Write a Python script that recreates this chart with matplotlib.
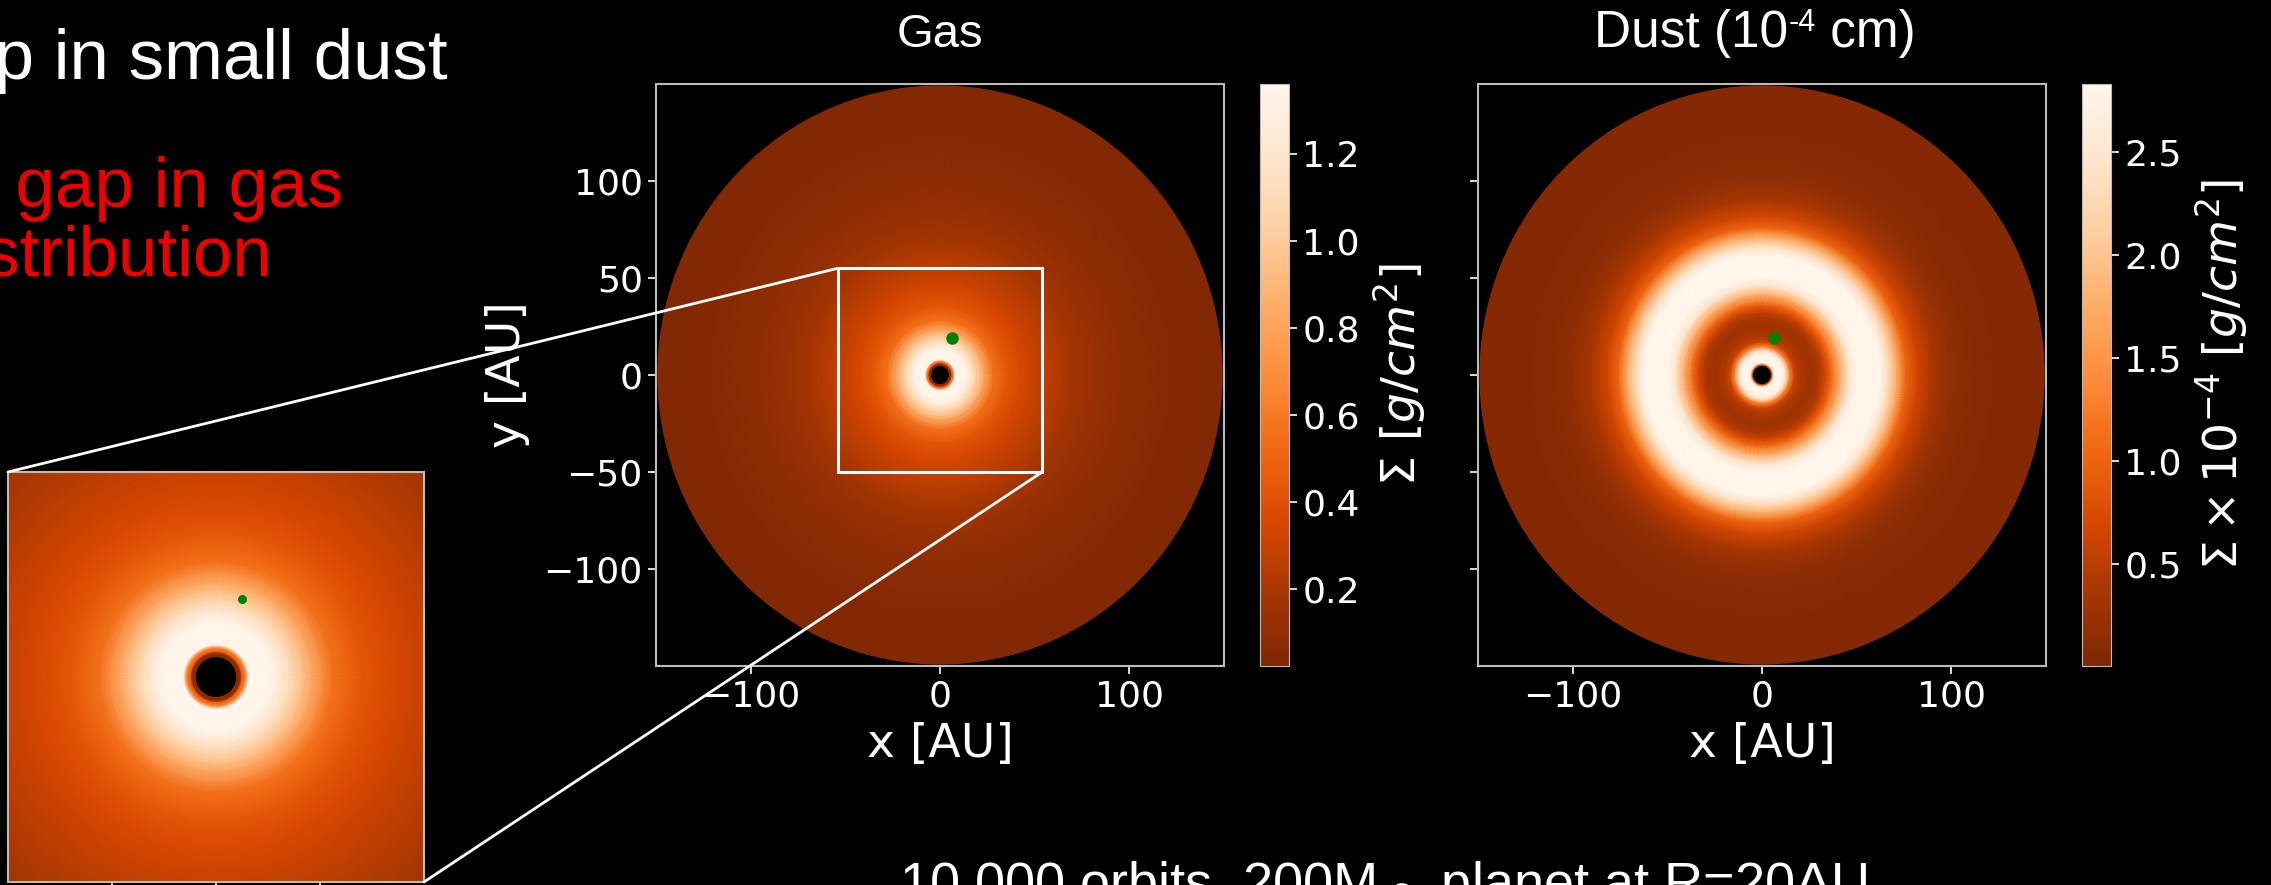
import numpy as np
import matplotlib
matplotlib.use('Agg')
import matplotlib.pyplot as plt
from matplotlib.patches import Rectangle, ConnectionPatch

# radial surface density profiles (r in AU)
gas_r = [5.0, 5.8, 6.2, 7.0, 7.8, 13.0, 16.0, 19.0, 23.0, 28.0, 35.0, 42.0,
         50.0, 60.0, 70.0, 85.0, 100.0, 125.0, 149.0]
gas_sigma = [0.06, 0.10, 0.50, 0.62, 1.36, 1.36, 1.20, 1.03, 0.82, 0.56, 0.43, 0.36,
             0.30, 0.24, 0.18, 0.12, 0.08, 0.05, 0.04]

dust_r = [5.0, 5.6, 6.3, 10.5, 12.5, 14.5, 17.0, 20.0, 25.0, 30.0, 34.0, 38.0,
          42.0, 46.0, 50.0, 62.0, 66.0, 71.0, 76.0, 82.0, 90.0, 100.0, 112.0,
          130.0, 149.0]
dust_sigma = [0.3, 1.8, 2.83, 2.83, 2.4, 1.35, 0.62, 0.42, 0.30, 0.40, 0.75, 1.3,
              1.9, 2.5, 2.83, 2.83, 2.4, 1.75, 1.0, 0.65, 0.38, 0.18, 0.09,
              0.07, 0.06]  # x 1e-4 g/cm^2

planet_x, planet_y = 6.2, 19.0
gas_range = (0.022, 1.36)
dust_range = (0.005, 2.83)
gas_cb_ticks = [0.2, 0.4, 0.6, 0.8, 1.0, 1.2]
dust_cb_ticks = [0.5, 1.0, 1.5, 2.0, 2.5]
x_ticks = [-100, 0, 100]
y_ticks = [-100, -50, 0, 50, 100]
zoom_box = (-54, 54, -50, 55)   # x0, x1, y0, y1 of the white box
inset_ticks = [-25, 0, 25]

W, H = 2271, 885
fig = plt.figure(figsize=(W / 100, H / 100), dpi=100, facecolor='black')


def px_axes(l, t, r, b):
    return fig.add_axes([l / W, 1 - b / H, (r - l) / W, (b - t) / H])


def draw_disk(ax, r, sigma, vr):
    theta = np.linspace(0, 2 * np.pi, 361)
    R, T = np.meshgrid(np.array(r), theta)
    C = np.tile(np.array(sigma), (len(theta), 1))
    return ax.pcolormesh(R * np.cos(T), R * np.sin(T), C, shading='gouraud',
                         cmap='Oranges_r', vmin=vr[0], vmax=vr[1])


def style(ax):
    ax.set_facecolor('black')
    for s in ax.spines.values():
        s.set_color('#bbbbbb')
        s.set_linewidth(1.5)
    ax.tick_params(colors='white', labelsize=26, length=6, width=1.2)


# gas panel
ax_gas = px_axes(656, 84, 1224, 666)
style(ax_gas)
m_gas = draw_disk(ax_gas, gas_r, gas_sigma, gas_range)
ax_gas.plot(planet_x, planet_y, 'o', color='green', ms=9, mec='none')
ax_gas.set_xlim(-150, 150)
ax_gas.set_ylim(-150, 150)
ax_gas.set_xticks(x_ticks)
ax_gas.set_yticks(y_ticks)
ax_gas.set_xlabel('x [AU]', color='white', fontsize=34, labelpad=6)
ax_gas.set_ylabel('y [AU]', color='white', fontsize=34, labelpad=10)
x0, x1, y0, y1 = zoom_box
ax_gas.add_patch(Rectangle((x0, y0), x1 - x0, y1 - y0, fill=False,
                           ec='white', lw=2.2, zorder=5))

cax_gas = px_axes(1260, 84, 1289, 666)
cb = fig.colorbar(m_gas, cax=cax_gas, ticks=gas_cb_ticks)
cb.outline.set_edgecolor('#bbbbbb')
cb.ax.tick_params(colors='white', labelsize=26, length=6, width=1.2)
cb.set_label(r'$\Sigma\ [g/cm^2]$', color='white', fontsize=34, labelpad=8)

# dust panel
ax_dust = px_axes(1478, 84, 2046, 666)
style(ax_dust)
m_dust = draw_disk(ax_dust, dust_r, dust_sigma, dust_range)
ax_dust.plot(planet_x, planet_y, 'o', color='green', ms=9, mec='none')
ax_dust.set_xlim(-150, 150)
ax_dust.set_ylim(-150, 150)
ax_dust.set_xticks(x_ticks)
ax_dust.set_yticks(y_ticks)
ax_dust.tick_params(labelleft=False)
ax_dust.set_xlabel('x [AU]', color='white', fontsize=34, labelpad=6)

cax_dust = px_axes(2082, 84, 2111, 666)
cb2 = fig.colorbar(m_dust, cax=cax_dust, ticks=dust_cb_ticks)
cb2.outline.set_edgecolor('#bbbbbb')
cb2.ax.tick_params(colors='white', labelsize=26, length=6, width=1.2)
cb2.set_label(r'$\Sigma \times 10^{-4}\ [g/cm^2]$', color='white', fontsize=34,
              labelpad=8)

# zoomed inset of the gas
ax_in = px_axes(8, 472, 424, 882)
style(ax_in)
draw_disk(ax_in, gas_r, gas_sigma, gas_range)
ax_in.plot(planet_x, planet_y, 'o', color='green', ms=6.5, mec='none')
ax_in.set_xlim(-50, 50)
ax_in.set_ylim(-50, 50)
ax_in.set_xticks(inset_ticks)
ax_in.set_yticks([])
ax_in.tick_params(labelbottom=False)

for pa, pb in [((-50, 50), (x0, y1)), ((50, -50), (x1, y0))]:
    con = ConnectionPatch(xyA=pa, coordsA=ax_in.transData,
                          xyB=pb, coordsB=ax_gas.transData,
                          color='white', lw=2)
    con.set_zorder(10)
    fig.add_artist(con)

# slide text
font = 'Liberation Sans'
fig.text(448 / W, 1 - 79 / H, 'Gap in small dust', ha='right', va='baseline',
         fontsize=51, color='white', family=font)
fig.text(343 / W, 1 - 207 / H, 'No gap in gas', ha='right', va='baseline',
         fontsize=51, color='#ee0000', family=font)
fig.text(272 / W, 1 - 275 / H, 'distribution', ha='right', va='baseline',
         fontsize=51, color='#ee0000', family=font)
fig.text(940 / W, 1 - 47 / H, 'Gas', ha='center', va='baseline',
         fontsize=34, color='white', family=font)
fig.text(899 / W, 1 - 900 / H, r'10,000 orbits, 200M$_\oplus$ planet at R=20AU',
         ha='left', va='baseline', fontsize=39, color='white', family=font)

# "Dust (10-4 cm)" with a raised hyphen, laid out piece by piece
parts = [('Dust (10', 37, 0), ('-4', 22, 16), (' cm)', 37, 0)]
pieces = [fig.text(0, 0, s, fontsize=fs, color='white', family=font,
                   va='baseline') for s, fs, _ in parts]
fig.canvas.draw()
rend = fig.canvas.get_renderer()
widths = [p.get_window_extent(rend).width for p in pieces]
x = 1755 - sum(widths) / 2
for p, w, (_, _, rise) in zip(pieces, widths, parts):
    p.set_position((x / W, 1 - (47 - rise) / H))
    x += w

fig.savefig('out.png', dpi=100, facecolor='black')
